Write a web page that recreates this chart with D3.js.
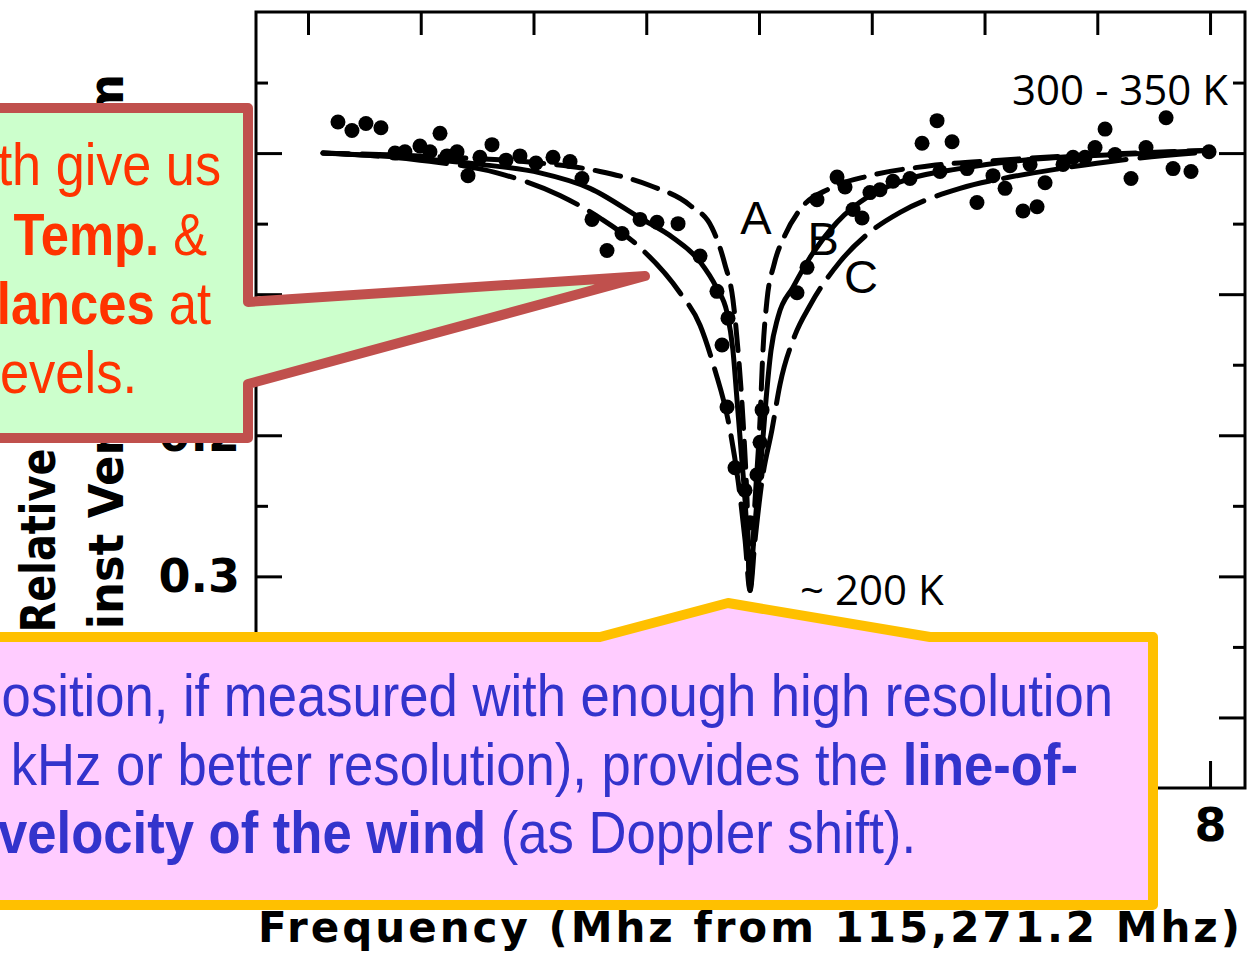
<!DOCTYPE html>
<html>
<head>
<meta charset="utf-8">
<script src="https://cdn.jsdelivr.net/npm/d3@7/dist/d3.min.js"></script>
<style>
body { margin: 0; background: #fff; }
text { white-space: pre; }
</style>
</head>
<body>
<script>
// model curves: [MHz offset, relative absorption]
var curveA = [[0.133,0.000],[1.259,0.003],[2.058,0.007],[2.590,0.013],[3.033,0.023],[3.388,0.037],
	[3.583,0.053],[3.698,0.079],[3.769,0.104],[3.814,0.140],[3.858,0.189],[3.894,0.246],[3.920,0.310],
	[3.965,0.246],[4.009,0.189],[4.035,0.140],[4.071,0.104],[4.133,0.079],[4.231,0.058],[4.364,0.040],
	[4.630,0.025],[4.984,0.016],[5.517,0.009],[6.137,0.005],[7.024,0.001],[8.027,-0.002]];

var curveB = [[0.133,0.000],[0.816,0.003],[1.525,0.008],[2.058,0.014],[2.501,0.025],[2.945,0.046],
	[3.237,0.060],[3.477,0.077],[3.627,0.096],[3.716,0.113],[3.769,0.140],[3.805,0.175],[3.840,0.210],
	[3.876,0.246],[3.902,0.281],[3.920,0.310],[3.947,0.281],[3.982,0.246],[4.027,0.210],[4.062,0.175],
	[4.106,0.140],[4.169,0.116],[4.302,0.095],[4.452,0.074],[4.692,0.049],[4.984,0.030],[5.339,0.018],
	[5.783,0.011],[6.226,0.006],[6.670,0.003],[7.202,0.001],[8.027,-0.002]];

var curveC = [[0.133,0.000],[0.993,0.005],[1.676,0.014],[2.235,0.030],[2.590,0.046],[2.945,0.067],
	[3.299,0.099],[3.477,0.122],[3.610,0.154],[3.725,0.189],[3.814,0.232],[3.876,0.274],[3.920,0.310],
	[3.965,0.274],[4.027,0.232],[4.115,0.196],[4.186,0.164],[4.319,0.129],[4.452,0.108],[4.718,0.077],
	[4.984,0.056],[5.251,0.042],[5.783,0.025],[6.226,0.017],[6.670,0.011],[7.202,0.005],[8.027,-0.001]];

// measured points
var obs = [[0.266,-0.022],[0.390,-0.016],[0.514,-0.021],[0.647,-0.018],[0.860,-0.001],[0.993,-0.005],
	[1.171,-0.014],[1.322,-0.001],[1.419,0.016],[1.525,0.003],[1.632,-0.006],[1.756,0.005],[1.880,0.002],
	[2.022,0.007],[2.173,0.003],[2.324,0.006],[2.430,0.018],[2.519,0.047],[2.652,0.069],[2.785,0.057],
	[2.945,0.047],[3.095,0.049],[3.282,0.050],[3.477,0.073],[3.627,0.098],[3.725,0.117],[3.716,0.180],
	[3.787,0.223],[3.920,0.262],[4.009,0.205],[4.027,0.182],[4.337,0.099],[4.426,0.081],[4.514,0.033],
	[4.692,0.017],[4.834,0.040],[4.914,0.046],[4.984,0.028],[5.188,0.020],[5.446,-0.007],[5.579,-0.023],
	[5.712,-0.008],[5.845,0.011],[5.933,0.035],[6.075,0.016],[6.182,0.025],[6.226,0.009],[6.341,0.041],
	[6.466,0.038],[6.537,0.021],[6.696,0.008],[6.785,0.003],[6.980,-0.004],[7.069,-0.017],[7.157,0.001],
	[7.299,0.018],[7.432,-0.004],[7.610,-0.025],[7.672,0.011],[7.831,0.013],[7.991,-0.001],[0.772,0.000],
	[1.082,-0.001],[1.233,0.002],[4.763,0.024],[5.073,0.026],[5.339,0.018],[5.605,0.013],[6.404,0.008],
	[6.891,0.003],[3.672,0.136],[3.876,0.239],[3.982,0.228]];

var xTicks = [0,1,2,3,4,5,6,7,8];
var yMajor = [0,0.1,0.2,0.3,0.4];
var yMinor = [-0.05,0.05,0.15,0.25,0.35];

var curveNames = ['A','B','C'];
var curveLabelPos = [[3.973,0.057],[4.568,0.072],[4.905,0.099]];

var xTitle = 'Frequency (Mhz from 115,271.2 Mhz)';
var yTitle = ['Relative Absorption', 'against Venus Continuum'];

var greenLines = [
	[['Line width give us', false]],
	[['the ', false], ['Temp.', true], [' &', false]],
	[['balances', true], [' at', false]],
	[['different levels.', false]]
];
var pinkLines = [
	[['Line position, if measured with enough high resolution', false]],
	[['(100 kHz or better resolution), provides the ', false], ['line-of-', true]],
	[['sight velocity of the wind', true], [' (as Doppler shift).', false]]
];


var svg = d3.select('body').append('svg')
	.attr('width', 1256)
	.attr('height', 955);

svg.append('rect')
	.attr('width', 1256)
	.attr('height', 955)
	.attr('fill', '#fff');

var x = d3.scaleLinear().domain([-0.461, 8.31]).range([256, 1245]);
var y = d3.scaleLinear().domain([-0.1, 0.45]).range([12, 788]);

var plotFont = 'DejaVu Sans, sans-serif';

function styleAxis(g) {
	g.select('.domain').remove();
	g.selectAll('.tick line').attr('stroke', '#000').attr('stroke-width', 3);
	g.selectAll('.tick text')
		.attr('fill', '#000')
		.attr('font-family', plotFont)
		.attr('font-weight', 'bold')
		.attr('font-size', 46);
}

// ticks
svg.append('g').attr('transform', 'translate(0,12)')
	.call(d3.axisTop(x).tickValues(xTicks).tickSize(-23).tickFormat(''))
	.call(styleAxis);
svg.append('g').attr('transform', 'translate(0,788)')
	.call(d3.axisBottom(x).tickValues(xTicks).tickSize(-27).tickPadding(20))
	.call(styleAxis);
svg.append('g').attr('transform', 'translate(256,0)')
	.call(d3.axisLeft(y).tickValues(yMajor).tickSize(-26).tickPadding(16).tickFormat(d3.format('.1~f')))
	.call(styleAxis);
svg.append('g').attr('transform', 'translate(256,0)')
	.call(d3.axisLeft(y).tickValues(yMinor).tickSize(-12).tickFormat(''))
	.call(styleAxis);
svg.append('g').attr('transform', 'translate(1245,0)')
	.call(d3.axisRight(y).tickValues(yMajor).tickSize(-26).tickFormat(''))
	.call(styleAxis);
svg.append('g').attr('transform', 'translate(1245,0)')
	.call(d3.axisRight(y).tickValues(yMinor).tickSize(-12).tickFormat(''))
	.call(styleAxis);

// frame
svg.append('rect')
	.attr('x', x.range()[0])
	.attr('y', y.range()[0])
	.attr('width', x.range()[1] - x.range()[0])
	.attr('height', y.range()[1] - y.range()[0])
	.attr('fill', 'none')
	.attr('stroke', '#000')
	.attr('stroke-width', 3);

// curves
var line = d3.line()
	.x(function(d) { return x(d[0]); })
	.y(function(d) { return y(d[1]); })
	.curve(d3.curveMonotoneX);

var curves = [curveA, curveB, curveC];
var dashes = ['26,13', null, '55,14'];
curves.forEach(function(c, i) {
	svg.append('path')
		.attr('d', line(c))
		.attr('fill', 'none')
		.attr('stroke', '#000')
		.attr('stroke-width', 5)
		.attr('stroke-dasharray', dashes[i])
		.attr('stroke-linecap', 'round');
});

svg.append('g').selectAll('circle')
	.data(obs).enter()
	.append('circle')
	.attr('cx', function(d) { return x(d[0]); })
	.attr('cy', function(d) { return y(d[1]); })
	.attr('r', 7.5)
	.attr('fill', '#000');

curveNames.forEach(function(n, i) {
	svg.append('text')
		.attr('x', x(curveLabelPos[i][0]))
		.attr('y', y(curveLabelPos[i][1]))
		.attr('text-anchor', 'middle')
		.attr('font-family', 'Liberation Sans, sans-serif')
		.attr('font-size', 47)
		.text(n);
});

// axis titles
svg.append('text')
	.attr('x', 258)
	.attr('y', 942)
	.attr('font-family', plotFont)
	.attr('font-weight', 'bold')
	.attr('font-size', 42)
	.attr('textLength', 982)
	.attr('lengthAdjust', 'spacing')
	.text(xTitle);

var yTitleX = [55, 123], yTitleY = [410, 398], yTitleLen = [445, 648];
yTitle.forEach(function(t, i) {
	svg.append('text')
		.attr('transform', 'translate(' + yTitleX[i] + ',' + yTitleY[i] + ') rotate(-90)')
		.attr('text-anchor', 'middle')
		.attr('font-family', plotFont)
		.attr('font-weight', 'bold')
		.attr('font-size', 48)
		.attr('textLength', yTitleLen[i])
		.attr('lengthAdjust', 'spacingAndGlyphs')
		.text(t);
});

// temperature notes
svg.append('text')
	.attr('x', 1228)
	.attr('y', 105)
	.attr('text-anchor', 'end')
	.attr('font-family', 'Open Sans, sans-serif')
	.attr('font-size', 42)
	.text('300 - 350 K');

svg.append('text')
	.attr('x', 800)
	.attr('y', 605)
	.attr('font-family', 'Open Sans, sans-serif')
	.attr('font-size', 42)
	.text('~ 200 K');

// callouts
svg.append('path')
	.attr('d', 'M-20,108 L248,108 L248,302 L645,276 L248,384 L248,438 L-20,438 Z')
	.attr('fill', '#CCFFCC')
	.attr('stroke', '#C0504D')
	.attr('stroke-width', 10)
	.attr('stroke-linejoin', 'round');

svg.append('path')
	.attr('d', 'M-20,637 L600,637 L728,603 L930,637 L1153,637 L1153,905 L-20,905 Z')
	.attr('fill', '#FFCCFF')
	.attr('stroke', '#FFC000')
	.attr('stroke-width', 10)
	.attr('stroke-linejoin', 'round');

function calloutText(lines, ends, bases, color, sx) {
	lines.forEach(function(segs, i) {
		var t = svg.append('text')
			.attr('transform', 'translate(' + ends[i] + ',' + bases[i] + ') scale(' + sx[i] + ',1)')
			.attr('text-anchor', 'end')
			.attr('font-family', 'Liberation Sans, Arial, sans-serif')
			.attr('font-size', 60)
			.attr('fill', color);
		segs.forEach(function(s) {
			t.append('tspan')
				.attr('font-weight', s[1] ? 'bold' : 'normal')
				.text(s[0]);
		});
	});
}

calloutText(greenLines, [221, 207, 211, 137], [185, 255, 324, 393], '#FF3300', [0.87, 0.845, 0.845, 0.875]);
calloutText(pinkLines, [1113, 1078, 916], [716, 785, 853], '#3333CC', [0.877, 0.877, 0.877]);
</script>
</body>
</html>
